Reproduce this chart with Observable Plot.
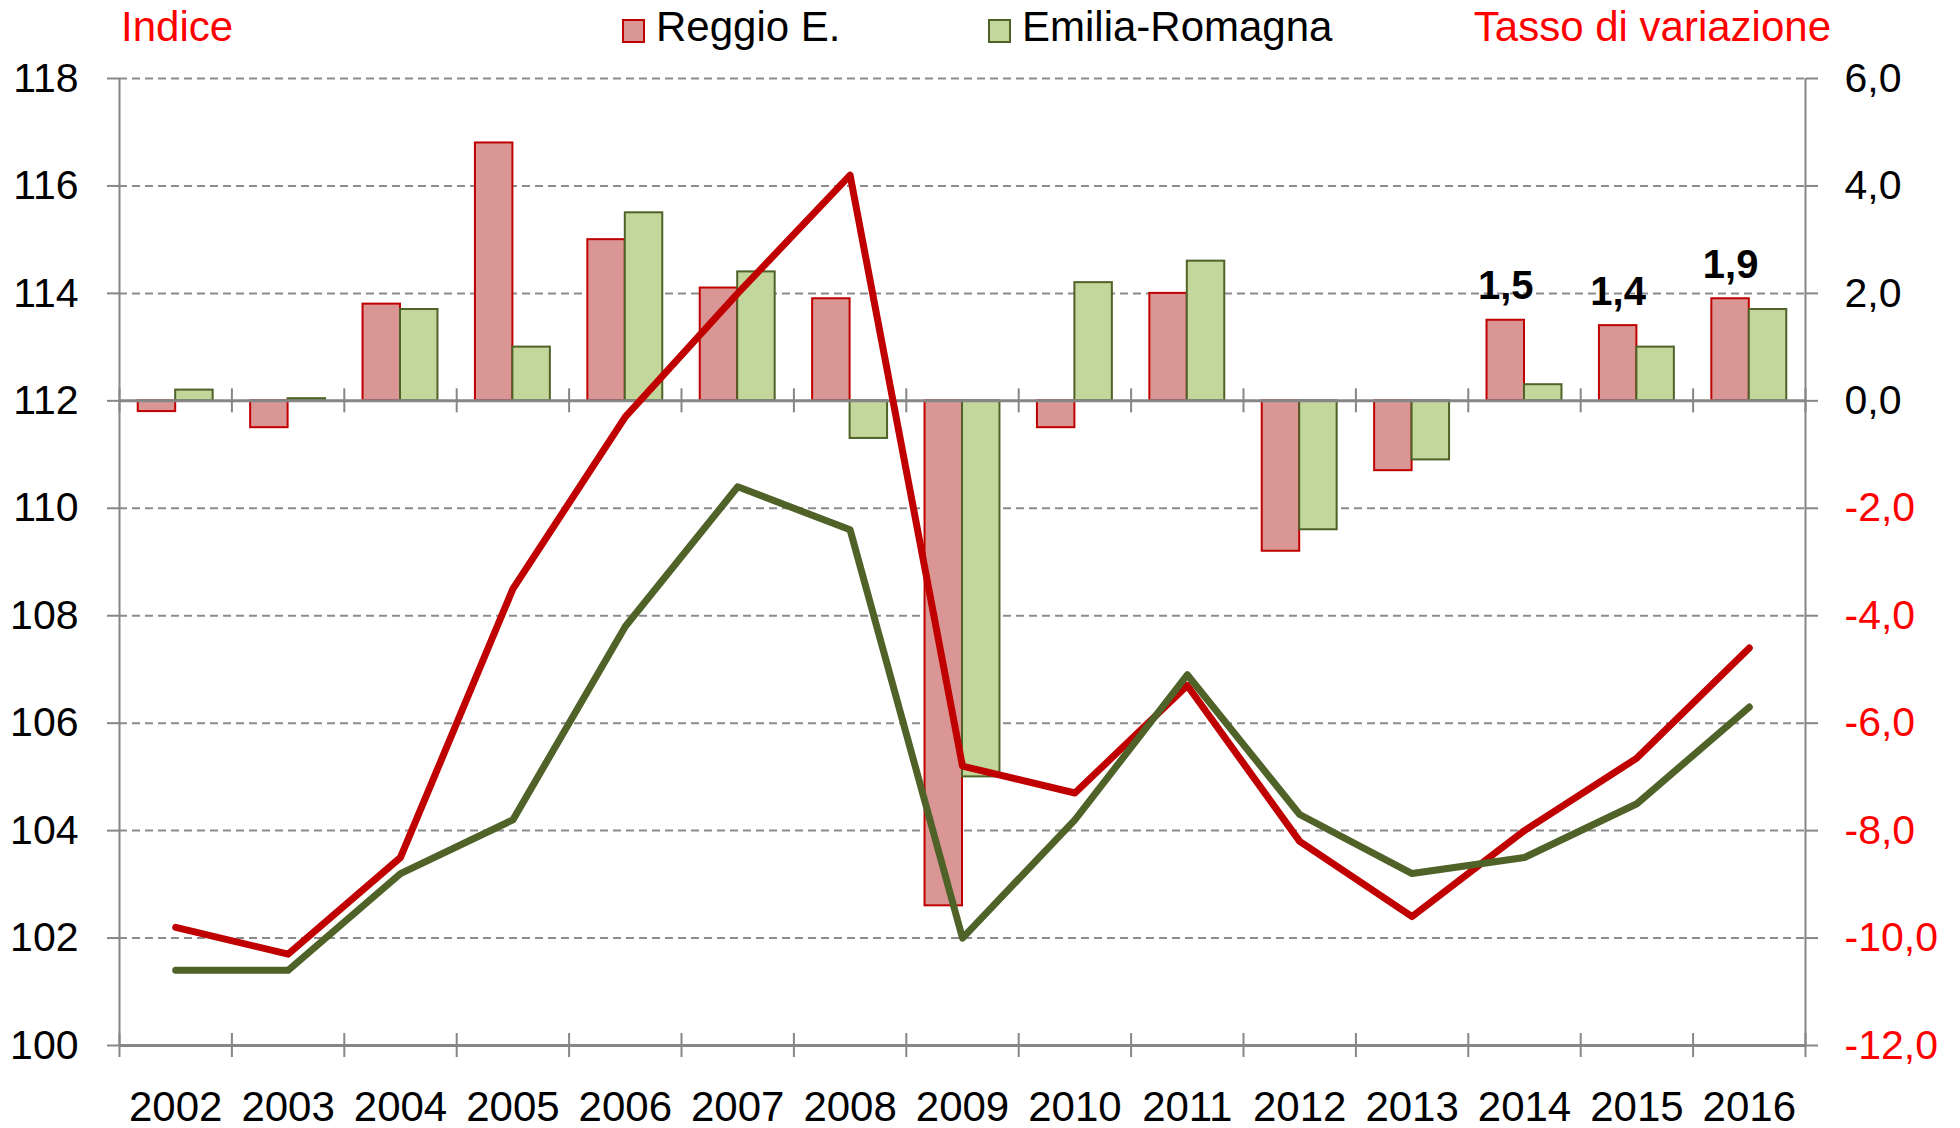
<!DOCTYPE html>
<html>
<head>
<meta charset="utf-8">
<script src="https://cdn.jsdelivr.net/npm/d3@7"></script>
<script src="https://cdn.jsdelivr.net/npm/@observablehq/plot@0.6"></script>
<style>
  html, body { margin: 0; padding: 0; background: #fff; }
  body { width: 1960px; height: 1128px; overflow: hidden; font-family: "Liberation Sans", Arial, sans-serif; }
  #header { display: block; }
</style>
</head>
<body>
<svg id="header" width="1960" height="50"></svg>
<div id="chart"></div>
<script>
// ---- data ----
const years = ["2002","2003","2004","2005","2006","2007","2008","2009","2010","2011","2012","2013","2014","2015","2016"];
const reggioRate = [-0.2, -0.5, 1.8, 4.8, 3.0, 2.1, 1.9, -9.4, -0.5, 2.0, -2.8, -1.3, 1.5, 1.4, 1.9];
const emiliaRate = [0.2, 0.04, 1.7, 1.0, 3.5, 2.4, -0.7, -7.0, 2.2, 2.6, -2.4, -1.1, 0.3, 1.0, 1.7];
const reggioIndex = [102.2, 101.7, 103.5, 108.5, 111.7, 114.0, 116.2, 105.2, 104.7, 106.7, 103.8, 102.4, 104.0, 105.35, 107.4];
const emiliaIndex = [101.4, 101.4, 103.2, 104.2, 107.8, 110.4, 109.6, 102.0, 104.2, 106.9, 104.3, 103.2, 103.5, 104.5, 106.3];
const labelYears = ["2014", "2015", "2016"];
const labelTexts = ["1,5", "1,4", "1,9"];
const indexTicks = [100, 102, 104, 106, 108, 110, 112, 114, 116, 118];
const seriesNames = ["Reggio E.", "Emilia-Romagna"];
const leftTitle = "Indice";
const rightTitle = "Tasso di variazione";
const OFFSET = 112; // right axis (rate) 0 corresponds to index 112

// ---- styles ----
const RED_FILL = "#D99694", RED_STROKE = "#C00000";
const GREEN_FILL = "#C3D69B", GREEN_STROKE = "#4F6228";
const GRID = "#8C8C8C";
const FONT = "'Liberation Sans', Arial, sans-serif";

const data = years.map((y, i) => ({
  year: y, i,
  rr: reggioRate[i], er: emiliaRate[i],
  ri: reggioIndex[i], ei: emiliaIndex[i]
}));
const labels = labelYears.map((y, k) => {
  const d = data.find(e => e.year === y);
  return {i: d.i, v: d.rr, text: labelTexts[k]};
});
const fmtRate = v => (v - OFFSET).toFixed(1).replace(".", ",");
const cats = d3.range(years.length + 1);

// ---- header (titles + legend) ----
const hdr = d3.select("#header");
hdr.append("text").attr("x", 121).attr("y", 41).attr("fill", "#FF0000")
  .attr("font-family", FONT).attr("font-size", 42).text(leftTitle);
hdr.append("text").attr("x", 1831).attr("y", 41).attr("text-anchor", "end").attr("fill", "#FF0000")
  .attr("font-family", FONT).attr("font-size", 42).text(rightTitle);
const leg = [
  {x: 623, fill: RED_FILL, stroke: RED_STROKE, name: seriesNames[0]},
  {x: 989, fill: GREEN_FILL, stroke: GREEN_STROKE, name: seriesNames[1]}
];
leg.forEach(l => {
  hdr.append("rect").attr("x", l.x).attr("y", 20).attr("width", 21).attr("height", 22)
    .attr("fill", l.fill).attr("stroke", l.stroke).attr("stroke-width", 2);
  hdr.append("text").attr("x", l.x + 33).attr("y", 41).attr("fill", "#000")
    .attr("font-family", FONT).attr("font-size", 42).text(l.name);
});

// ---- chart ----
const chart = Plot.plot({
  width: 1960,
  height: 1078,
  marginLeft: 119,
  marginRight: 155,
  marginTop: 28,
  marginBottom: 83,
  x: {domain: [0, years.length], axis: null},
  y: {domain: [100, 118], axis: null},
  style: {fontFamily: FONT, fontSize: "41px", background: "white", overflow: "visible"},
  marks: [
    // dashed gridlines
    Plot.ruleY(indexTicks.filter(v => v !== OFFSET && v !== 100), {stroke: GRID, strokeWidth: 2, strokeDasharray: "8,5"}),
    // bars
    Plot.rect(data, {x1: d => d.i + 1/6, x2: d => d.i + 0.5, y1: OFFSET, y2: d => OFFSET + d.rr,
      fill: RED_FILL, stroke: RED_STROKE, strokeWidth: 2}),
    Plot.rect(data, {x1: d => d.i + 0.5, x2: d => d.i + 5/6, y1: OFFSET, y2: d => OFFSET + d.er,
      fill: GREEN_FILL, stroke: GREEN_STROKE, strokeWidth: 2}),
    // zero line and bottom line
    Plot.ruleY([OFFSET], {stroke: "#868686", strokeWidth: 3}),
    Plot.ruleY([100], {stroke: "#868686", strokeWidth: 3}),
    // vertical axis lines
    Plot.ruleX([0, years.length], {stroke: "#868686", strokeWidth: 2}),
    // category tick marks crossing the zero line and the bottom line
    Plot.ruleX(cats, {x: d => d, y1: OFFSET, y2: OFFSET, insetTop: -12, insetBottom: -12, stroke: "#868686", strokeWidth: 2}),
    Plot.ruleX(cats, {x: d => d, y1: 100, y2: 100, insetTop: -12, insetBottom: -12, stroke: "#868686", strokeWidth: 2}),
    // left axis (index)
    Plot.axisY(indexTicks, {anchor: "left", tickSize: 12, tickPadding: 29, tickFormat: d => String(d),
      stroke: "#868686", strokeWidth: 2, fill: "#000", fontSize: 41, label: null}),
    // right axis (rate)
    Plot.axisY(indexTicks.filter(v => v >= OFFSET), {anchor: "right", tickSize: 12, tickPadding: 27, tickFormat: fmtRate,
      stroke: "#868686", strokeWidth: 2, fill: "#000", fontSize: 41, label: null}),
    Plot.axisY(indexTicks.filter(v => v < OFFSET), {anchor: "right", tickSize: 12, tickPadding: 27, tickFormat: fmtRate,
      stroke: "#868686", strokeWidth: 2, fill: "#FF0000", fontSize: 41, label: null}),
    // index lines
    Plot.line(data, {x: d => d.i + 0.5, y: "ri", stroke: RED_STROKE, strokeWidth: 7, strokeLinecap: "round", strokeLinejoin: "round"}),
    Plot.line(data, {x: d => d.i + 0.5, y: "ei", stroke: GREEN_STROKE, strokeWidth: 7, strokeLinecap: "round", strokeLinejoin: "round"}),
    // value labels
    Plot.text(labels, {x: d => d.i + 1/3, y: d => OFFSET + d.v, text: "text", dy: -21, lineAnchor: "bottom",
      fontWeight: "bold", fontSize: 40, fill: "#000"}),
    // year labels
    Plot.text(data, {x: d => d.i + 0.5, y: 100, text: "year", dy: 75, lineAnchor: "bottom", fontSize: 42, fill: "#000"})
  ]
});
document.getElementById("chart").appendChild(chart);
</script>
</body>
</html>
